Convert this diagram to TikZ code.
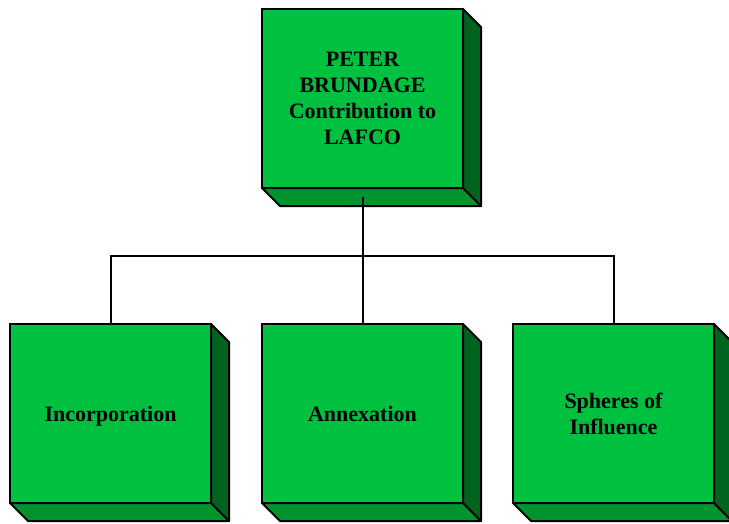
\documentclass[tikz,border=0pt]{standalone}
\usepackage{fontspec}
\setmainfont{Liberation Serif}
\usetikzlibrary{calc}
\definecolor{frontg}{RGB}{0,192,64}
\definecolor{bottomg}{RGB}{0,148,46}
\definecolor{sideg}{RGB}{0,100,30}
\tikzset{
  frontbox/.style={draw=black, line width=2pt, fill=frontg, rectangle, anchor=north west,
    minimum width=201pt, minimum height=179pt, inner sep=0pt, outer sep=0pt, align=center,
    font=\fontsize{22pt}{26pt}\selectfont\bfseries},
  oneline/.style={text height=15pt, text depth=0pt},
  face/.style={draw=black, line width=2pt, line join=round},
  link/.style={draw=black, line width=2pt}
}
\newcommand{\extrude}[1]{%
  \path[face, fill=bottomg] (#1.south west) -- (#1.south east) -- ($(#1.south east)+(18,18)$) -- ($(#1.south west)+(18,18)$) -- cycle;
  \path[face, fill=sideg] (#1.north east) -- ($(#1.north east)+(18,18)$) -- ($(#1.south east)+(18,18)$) -- (#1.south east) -- cycle;
}
\begin{document}
\begin{tikzpicture}[x=1pt,y=-1pt]
\useasboundingbox (0,0) rectangle (729,523);
\clip (0,0) rectangle (729,523);
\node[frontbox] (top) at (262,9) {PETER\\BRUNDAGE\\Contribution to\\LAFCO};
\extrude{top}
\node[frontbox, oneline] (inc) at (10,324) {Incorporation};
\extrude{inc}
\node[frontbox, oneline] (ann) at (262,324) {Annexation};
\extrude{ann}
\node[frontbox] (sph) at (513,324) {Spheres of\\Influence};
\extrude{sph}
\coordinate (src) at ($(top.south)+(0,9)$);
\coordinate (bus) at ($(src)+(0,59)$);
\draw[link] (src) -- (bus);
\draw[link] (inc.north) |- (bus) -| (sph.north);
\draw[link] (ann.north) -- (bus);
\end{tikzpicture}
\end{document}
